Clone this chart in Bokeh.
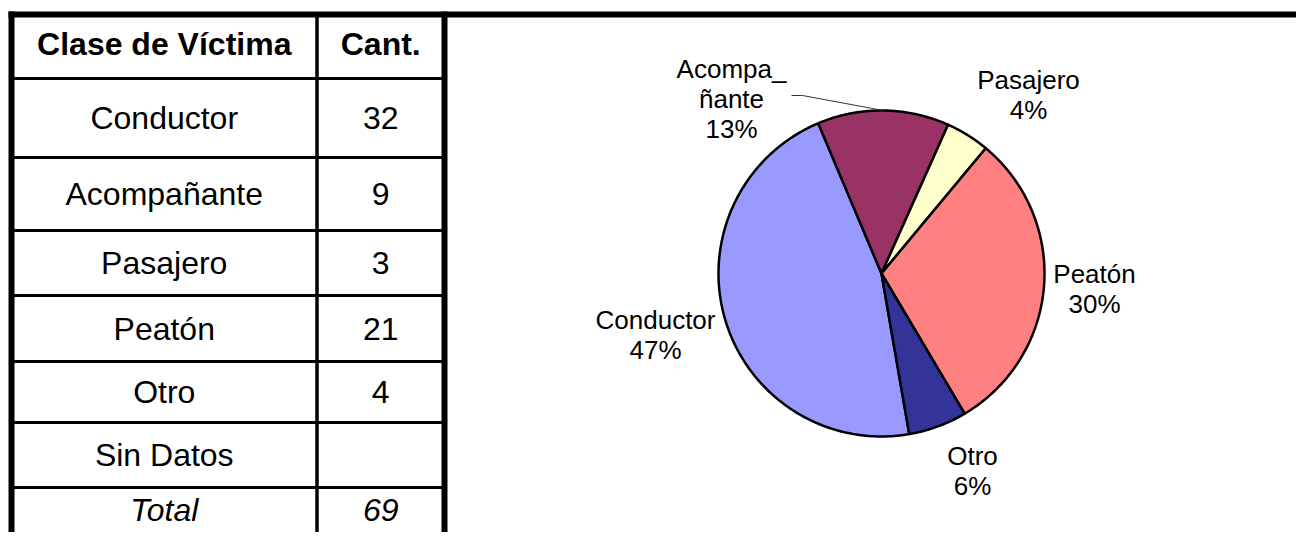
import numpy as np
from bokeh.plotting import figure
from bokeh.models import Range1d, ColumnDataSource
from bokeh.core.properties import value
from bokeh.embed import file_html
from bokeh.resources import INLINE

# ---------------- data ----------------
header = ["Clase de Víctima", "Cant."]
categories = ["Conductor", "Acompañante", "Pasajero", "Peatón", "Otro", "Sin Datos"]
counts = [32, 9, 3, 21, 4, None]
total_label = "Total"
total_value = 69

pie_names = ["Conductor", "Acompa_\nñante", "Pasajero", "Peatón", "Otro"]
pie_values = [32, 9, 3, 21, 4]
pie_pct = ["47%", "13%", "4%", "30%", "6%"]
pie_colors = ["#9999FF", "#993366", "#FFFFCC", "#FF8080", "#333399"]

# ---------------- layout ----------------
W, H = 1296, 532
FONT = value("Liberation Sans")
TABLE_FS = "32px"
PIE_FS = "26px"

row_lines = [78, 157, 230, 295, 361, 422, 487]   # y of horizontal table rules
table_top = 14
table_bottom_text = 509
x_left, x_div, x_right = 11, 316.5, 444
col1_cx = (x_left + x_div) / 2
col2_cx = (x_div + x_right) / 2

cx, cy, R = 881, 273, 163
start_cw = 170.2  # degrees clockwise from 12 o'clock for the first slice

# label anchors (center x, first-line y), one per slice
label_pos = [(655, 319), (731, 68), (1028, 79), (1094, 273), (972, 455)]
line_h = 30
leader_start = [(791, 95), (802, 95)]

p = figure(width=W, height=H, x_range=Range1d(0, W), y_range=Range1d(H, 0),
           output_backend="svg", toolbar_location=None, min_border=0)
p.axis.visible = False
p.grid.visible = False
p.outline_line_color = None
p.background_fill_color = "white"
p.border_fill_color = "white"

# ---------------- table ----------------
bottom = H + 4
# thick borders
p.segment(x0=[x_left - 3], y0=[table_top], x1=[W + 4], y1=[table_top], line_color="black", line_width=6)
p.segment(x0=[x_left, x_right], y0=[table_top - 3] * 2, x1=[x_left, x_right], y1=[bottom] * 2,
          line_color="black", line_width=6)
# column divider
p.segment(x0=[x_div], y0=[table_top], x1=[x_div], y1=[bottom], line_color="black", line_width=3.5)
# row rules
p.segment(x0=[x_left] * len(row_lines), y0=row_lines, x1=[x_right] * len(row_lines), y1=row_lines,
          line_color="black", line_width=3)

# cell texts
bounds = [table_top] + row_lines
centers = [(bounds[i] + bounds[i + 1]) / 2 for i in range(len(bounds) - 1)]
# header
p.text(x=[col1_cx, col2_cx], y=[centers[0] - 3] * 2, text=header, text_font=FONT,
       text_font_size=TABLE_FS, text_font_style="bold", text_align="center",
       text_baseline="middle", text_color="black")
# body rows
ys = centers[1:1 + len(categories)]
p.text(x=[col1_cx] * len(categories), y=ys, text=categories, text_font=FONT,
       text_font_size=TABLE_FS, text_align="center", text_baseline="middle", text_color="black")
cnt_txt = ["" if c is None else str(c) for c in counts]
p.text(x=[col2_cx] * len(counts), y=ys, text=cnt_txt, text_font=FONT,
       text_font_size=TABLE_FS, text_align="center", text_baseline="middle", text_color="black")
# total row
p.text(x=[col1_cx, col2_cx], y=[table_bottom_text] * 2, text=[total_label, str(total_value)],
       text_font=FONT, text_font_size=TABLE_FS, text_font_style="italic", text_align="center",
       text_baseline="middle", text_color="black")

# ---------------- pie ----------------
vals = np.array(pie_values, dtype=float)
fr = vals / vals.sum()
edges = start_cw + np.concatenate([[0], np.cumsum(fr)]) * 360.0
xs, ysl = [], []
for a0, a1 in zip(edges[:-1], edges[1:]):
    t = np.radians(np.linspace(a0, a1, max(8, int((a1 - a0) * 2))))
    xs.append(list(np.concatenate([[cx], cx + R * np.sin(t), [cx]])))
    ysl.append(list(np.concatenate([[cy], cy - R * np.cos(t), [cy]])))
src = ColumnDataSource(dict(xs=xs, ys=ysl, color=pie_colors))
p.patches("xs", "ys", source=src, fill_color="color", line_color="black", line_width=2.5,
          line_join="round")

# leader line for Acompañante
mid = np.radians((edges[1] + edges[2]) / 2)
lx = [leader_start[0][0], leader_start[1][0], cx + R * np.sin(mid)]
ly = [leader_start[0][1], leader_start[1][1], cy - R * np.cos(mid)]
p.line(lx, ly, line_color="#333333", line_width=1)

# labels
tx, ty, tt = [], [], []
for (lx0, ly0), name, pct in zip(label_pos, pie_names, pie_pct):
    lines = name.split("\n") + [pct]
    for k, s in enumerate(lines):
        tx.append(lx0)
        ty.append(ly0 + k * line_h)
        tt.append(s)
p.text(x=tx, y=ty, text=tt, text_font=FONT, text_font_size=PIE_FS, text_align="center",
       text_baseline="middle", text_color="black")

open("out.html", "w").write(file_html(p, INLINE))
